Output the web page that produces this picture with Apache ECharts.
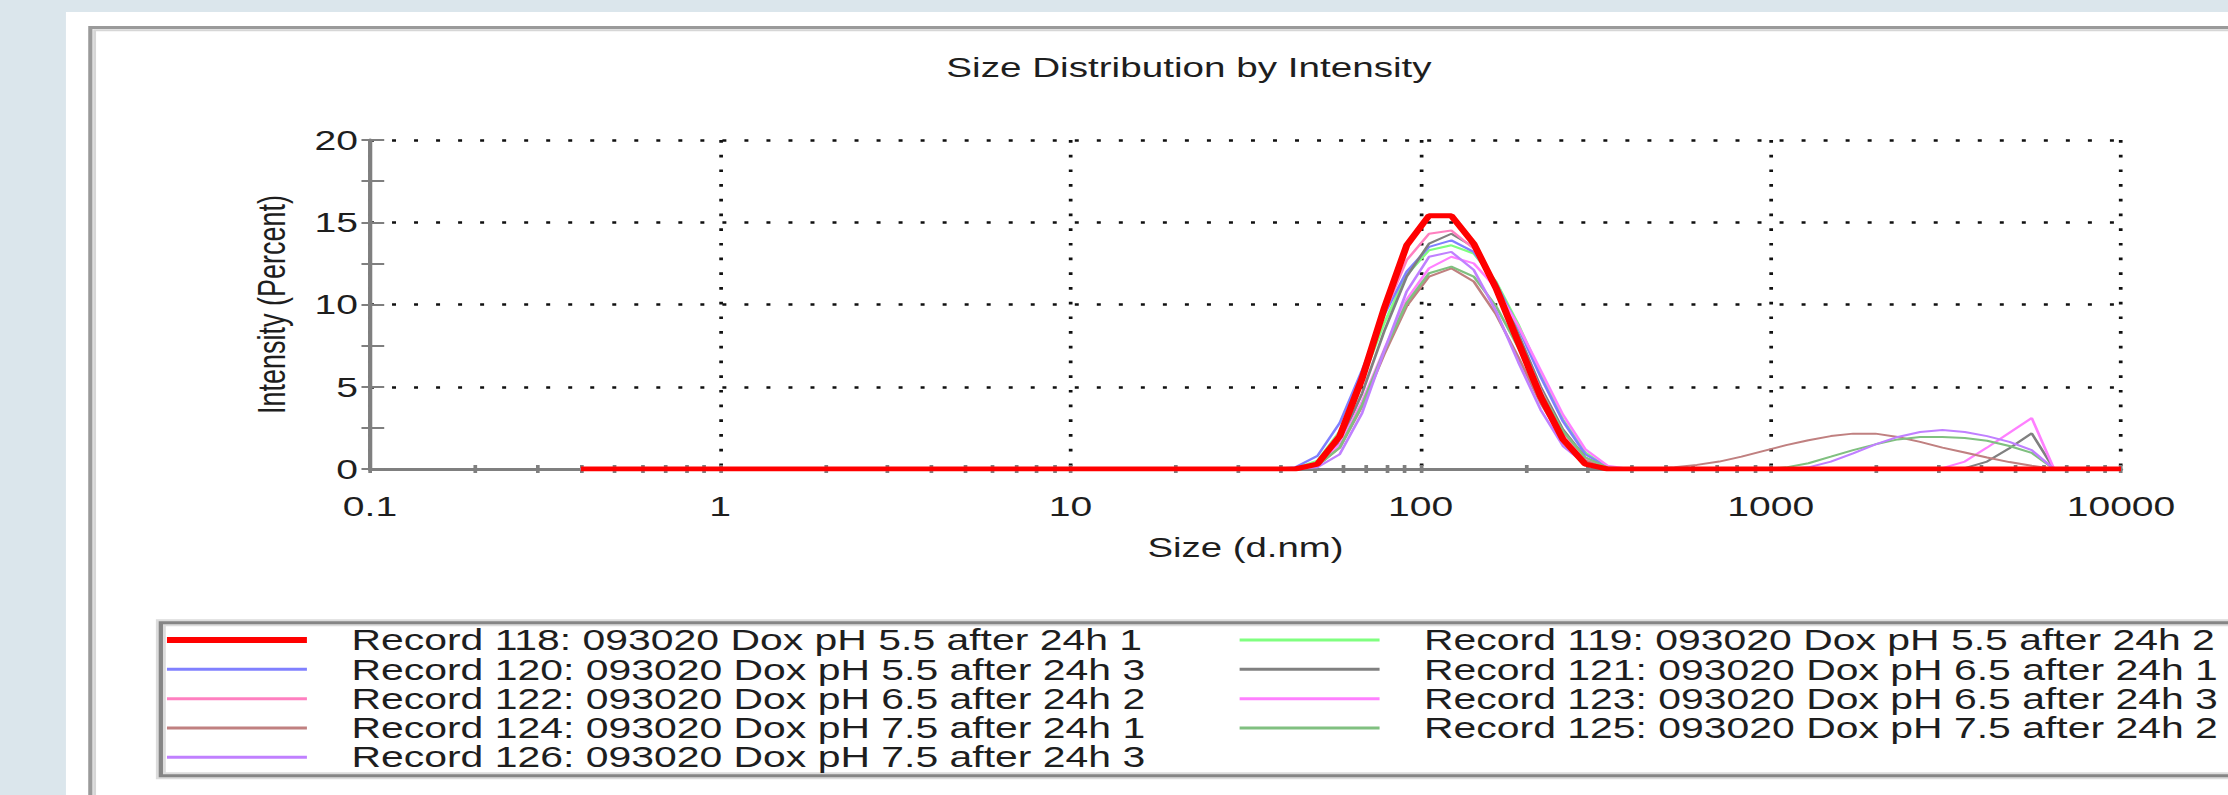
<!DOCTYPE html>
<html>
<head>
<meta charset="utf-8">
<script src="https://cdn.jsdelivr.net/npm/echarts@6.0.0/dist/echarts.min.js"></script>
<style>
html,body{margin:0;padding:0;width:2228px;height:795px;overflow:hidden;background:#dbe6ec;}
#chart{position:absolute;left:0;top:0;width:1568px;height:795px;transform:scaleX(1.420918);transform-origin:0 0;}
</style>
</head>
<body>
<div id="chart"></div>
<script>
// ---------------- DATA ----------------
// size bins (d.nm)
const sizes = [0.4,0.4632,0.5365,0.6213,0.7195,0.8332,0.9649,1.117,1.294,1.499,
  1.736,2.01,2.328,2.696,3.122,3.615,4.187,4.849,5.615,6.503,
  7.531,8.721,10.1,11.7,13.54,15.69,18.17,21.04,24.36,28.21,
  32.67,37.84,43.82,50.75,58.77,68.06,78.82,91.28,105.7,122.4,
  141.8,164.2,190.1,220.2,255,295.3,342,396.1,458.7,531.2,
  615.1,712.4,825,955.4,1106,1281,1484,1718,1990,2305,
  2669,3091,3580,4145,4801,5560,6439,7456,8635,10000];

const r118 = [0,0,0,0,0,0,0,0,0,0, 0,0,0,0,0,0,0,0,0,0, 0,0,0,0,0,0,0,0,0,0, 0,0,
  0,0.3,2.0,5.5,9.8,13.6,15.4,15.4,13.7,11.0,7.7,4.4,1.8,0.3,0,
  0,0,0,0,0,0,0,0,0,0, 0,0,0,0,0,0,0,0,0,0, 0,0,0];
const r119 = [0,0,0,0,0,0,0,0,0,0, 0,0,0,0,0,0,0,0,0,0, 0,0,0,0,0,0,0,0,0,0, 0,0,
  0.05,0.5,2.3,5.4,8.9,11.8,13.3,13.6,13.1,11.4,8.8,5.8,3.0,1.0,0.1,
  0,0,0,0,0,0,0,0,0,0, 0,0,0,0,0,0,0,0,0,0, 0,0,0];
const r120 = [0,0,0,0,0,0,0,0,0,0, 0,0,0,0,0,0,0,0,0,0, 0,0,0,0,0,0,0,0,0,0, 0,0,
  0.1,0.8,2.8,6.0,9.4,12.0,13.5,13.9,13.2,11.3,8.6,5.6,2.9,0.9,0.1,
  0,0,0,0,0,0,0,0,0,0, 0,0,0,0,0,0,0,0,0,0, 0,0,0];
const r121 = [0,0,0,0,0,0,0,0,0,0, 0,0,0,0,0,0,0,0,0,0, 0,0,0,0,0,0,0,0,0,0, 0,0,
  0,0.2,1.6,4.6,8.4,11.7,13.7,14.3,13.5,11.3,8.2,5.0,2.4,0.7,0.05,
  0,0,0,0,0,0,0,0,0,0, 0,0,0,0,0,0.05,0.45,1.26,2.17,0, 0,0,0];
const r122 = [0,0,0,0,0,0,0,0,0,0, 0,0,0,0,0,0,0,0,0,0, 0,0,0,0,0,0,0,0,0,0, 0,0,
  0,0.4,2.2,5.6,9.5,12.7,14.3,14.5,13.4,11.0,7.9,4.8,2.2,0.6,0.05,
  0,0,0,0,0,0,0,0,0,0, 0,0,0,0,0,0,0,0,0,0, 0,0,0];
const r123 = [0,0,0,0,0,0,0,0,0,0, 0,0,0,0,0,0,0,0,0,0, 0,0,0,0,0,0,0,0,0,0, 0,0,
  0,0.3,1.5,4.1,7.3,10.3,12.2,12.9,12.5,11.0,8.7,6.0,3.3,1.2,0.2,
  0,0,0,0,0,0,0,0,0,0, 0,0,0,0,0.05,0.45,1.3,2.2,3.1,0, 0,0,0];
const r124 = [0,0,0,0,0,0,0,0,0,0, 0,0,0,0,0,0,0,0,0,0, 0,0,0,0,0,0,0,0,0,0, 0,0,
  0,0.2,1.3,3.8,7.0,9.9,11.7,12.2,11.4,9.4,6.8,4.0,1.8,0.5,0.05,
  0,0.02,0.1,0.25,0.45,0.75,1.1,1.45,1.75,2.0, 2.15,2.15,1.95,1.65,1.3,1.0,0.7,0.42,0.2,0, 0,0,0];
const r125 = [0,0,0,0,0,0,0,0,0,0, 0,0,0,0,0,0,0,0,0,0, 0,0,0,0,0,0,0,0,0,0, 0,0,
  0,0.2,1.3,3.9,7.2,10.1,11.9,12.3,11.7,9.9,7.4,4.7,2.3,0.7,0.1,
  0,0,0,0,0,0,0,0.1,0.35,0.75, 1.15,1.5,1.8,1.95,1.95,1.88,1.72,1.4,0.98,0, 0,0,0];
const r126 = [0,0,0,0,0,0,0,0,0,0, 0,0,0,0,0,0,0,0,0,0, 0,0,0,0,0,0,0,0,0,0, 0,0,
  0,0.1,0.9,3.4,7.2,10.8,12.9,13.2,12.1,9.6,6.5,3.6,1.4,0.3,0,
  0,0,0,0,0,0,0,0,0.1,0.45, 0.95,1.5,1.95,2.25,2.37,2.25,2.0,1.65,1.15,0, 0,0,0];

const names = {
  r118: 'Record 118: 093020 Dox pH 5.5 after 24h 1',
  r119: 'Record 119: 093020 Dox pH 5.5 after 24h 2',
  r120: 'Record 120: 093020 Dox pH 5.5 after 24h 3',
  r121: 'Record 121: 093020 Dox pH 6.5 after 24h 1',
  r122: 'Record 122: 093020 Dox pH 6.5 after 24h 2',
  r123: 'Record 123: 093020 Dox pH 6.5 after 24h 3',
  r124: 'Record 124: 093020 Dox pH 7.5 after 24h 1',
  r125: 'Record 125: 093020 Dox pH 7.5 after 24h 2',
  r126: 'Record 126: 093020 Dox pH 7.5 after 24h 3'
};
const values = {r118, r119, r120, r121, r122, r123, r124, r125, r126};

const xTickLabels = ['0.1','1','10','100','1000','10000'];
const xMajorTicks = [0.1,1,10,100,1000,10000];
const xMinorTicks = [0.2,0.3,0.4,0.5,0.6,0.7,0.8,0.9,
  2,3,4,5,6,7,8,9, 20,30,40,50,60,70,80,90,
  200,300,400,500,600,700,800,900, 2000,3000,4000,5000,6000,7000,8000,9000];

// ---------------- STYLES ----------------
const FONT = 'Liberation Sans, Arial, Helvetica, sans-serif';
const styles = {
  r118: {color:'#ff0000', width:5, thick:true},
  r119: {color:'#80ff80', width:2},
  r120: {color:'#8080ff', width:2},
  r121: {color:'#808080', width:2},
  r122: {color:'#ff80c0', width:2},
  r123: {color:'#ff80ff', width:2},
  r124: {color:'#c08080', width:2},
  r125: {color:'#80c080', width:2},
  r126: {color:'#c080ff', width:2}
};
const drawOrder = ['r119','r120','r121','r122','r123','r124','r125','r126','r118'];
const legendLeft = ['r118','r120','r122','r124','r126'];
const legendRight = ['r119','r121','r123','r125'];

const thickIcon = 'path://M0,0H100V6H0Z';
const thinIcon = 'path://M0,0H100V3H0Z';

const series = drawOrder.map(k => ({
  name: names[k],
  type: 'line',
  xAxisIndex: 0,
  yAxisIndex: 0,
  symbol: 'none',
  smooth: false,
  silent: true,
  color: styles[k].color,
  lineStyle: {color: styles[k].color, width: styles[k].width},
  data: sizes.map((s, i) => [s, values[k][i]])
}));

const legendBase = {
  orient: 'vertical', top: 625.4, padding: 0,
  itemWidth: 98.5, itemHeight: 20, itemGap: 0,
  symbolKeepAspect: true, selectedMode: false,
  itemStyle: {borderWidth: 0},
  textStyle: {fontFamily: FONT, fontSize: 28.8, lineHeight: 29.3, color: '#1e1e1e', padding: [0,0,0,26.3]}
};
const legendItem = k => ({name: names[k], icon: styles[k].thick ? thickIcon : thinIcon});

const gridLeft = 260.4, gridTop = 140, gridW = 1232.3, gridH = 329;
const tickColor = '#7f7f7f';

const option = {
  animation: false,
  backgroundColor: '#dbe6ec',
  title: {
    text: 'Size Distribution by Intensity',
    left: 666, top: 54, padding: 0,
    textStyle: {fontFamily: FONT, fontSize: 27.2, lineHeight: 28, fontWeight: 'normal', color: '#1e1e1e'}
  },
  graphic: [
    {type:'rect', z:-10, shape:{x:46.4, y:12, width:1600, height:800}, style:{fill:'#ffffff'}},
    {type:'polyline', z:-9, shape:{points:[[66.6,800],[66.6,30.2],[1600,30.2]]}, style:{stroke:'#d6d6d6', lineWidth:2, fill:null}},
    {type:'polyline', z:-9, shape:{points:[[63.6,800],[63.6,27.6],[1600,27.6]]}, style:{stroke:'#9a9a9a', lineWidth:3, fill:null}},
    {type:'rect', z:-8, shape:{x:113.2, y:622.8, width:1600, height:153}, style:{fill:null, stroke:'#dcdcdc', lineWidth:7}},
    {type:'rect', z:-8, shape:{x:113.2, y:622.8, width:1600, height:153}, style:{fill:null, stroke:'#858585', lineWidth:3}}
  ],
  legend: [
    Object.assign({}, legendBase, {left: 117.5, data: legendLeft.map(legendItem)}),
    Object.assign({}, legendBase, {left: 872.4, data: legendRight.map(legendItem)})
  ],
  grid: {left: gridLeft, top: gridTop, width: gridW, height: gridH, containLabel: false},
  xAxis: [
    {
      type: 'log', logBase: 10, min: 0.1, max: 10000, position: 'bottom',
      name: 'Size (d.nm)', nameLocation: 'middle', nameGap: 65.5,
      nameTextStyle: {fontFamily: FONT, fontSize: 27, lineHeight: 27, color: '#1e1e1e'},
      axisLine: {show: true, lineStyle: {color: tickColor, width: 3}},
      axisTick: {show: false},
      minorTick: {show: false},
      axisLabel: {
        fontFamily: FONT, fontSize: 27.5, lineHeight: 28, color: '#1e1e1e', margin: 23,
        formatter: v => {
          for (let i = 0; i < xMajorTicks.length; i++) {
            if (Math.abs(Math.log10(v) - Math.log10(xMajorTicks[i])) < 1e-6) return xTickLabels[i];
          }
          return '';
        }
      },
      splitLine: {show: true, lineStyle: {color: '#111', width: 2.6, type: [2.7, 12]}}
    },
    {
      type: 'log', logBase: 10, min: 0.1, max: 10000, position: 'bottom', offset: 0,
      axisLine: {show: false}, axisLabel: {show: false}, splitLine: {show: false},
      axisTick: {show: true, inside: false, length: 4, customValues: xMinorTicks.concat(xMajorTicks),
        lineStyle: {color: tickColor, width: 2.6}}
    },
    {
      type: 'log', logBase: 10, min: 0.1, max: 10000, position: 'bottom', offset: 0,
      axisLine: {show: false}, axisLabel: {show: false}, splitLine: {show: false},
      axisTick: {show: true, inside: true, length: 4, customValues: xMinorTicks.concat(xMajorTicks),
        lineStyle: {color: tickColor, width: 2.6}}
    }
  ],
  yAxis: [
    {
      type: 'value', min: 0, max: 20, interval: 5, position: 'left',
      name: 'Intensity (Percent)', nameLocation: 'middle', nameGap: 56, nameRotate: 90,
      nameTextStyle: {fontFamily: FONT, fontSize: 27, lineHeight: 27, color: '#1e1e1e'},
      axisLine: {show: true, lineStyle: {color: tickColor, width: 3}},
      axisTick: {show: true, inside: false, length: 6, lineStyle: {color: tickColor, width: 2}},
      minorTick: {show: true, splitNumber: 2, length: 6, lineStyle: {color: tickColor, width: 2}},
      axisLabel: {fontFamily: FONT, fontSize: 27.5, lineHeight: 28, color: '#1e1e1e', margin: 8.5},
      splitLine: {show: true, lineStyle: {color: '#111', width: 2.6, type: [2.8, 12.7]}}
    },
    {
      type: 'value', min: 0, max: 20, interval: 5, position: 'left', offset: 0,
      axisLine: {show: false}, axisLabel: {show: false}, splitLine: {show: false},
      axisTick: {show: true, inside: true, length: 10, lineStyle: {color: tickColor, width: 2}},
      minorTick: {show: true, splitNumber: 2, length: 10, lineStyle: {color: tickColor, width: 2}}
    }
  ],
  series: series
};

const chart = echarts.init(document.getElementById('chart'), null, {renderer: 'svg'});
chart.setOption(option);
</script>
</body>
</html>
